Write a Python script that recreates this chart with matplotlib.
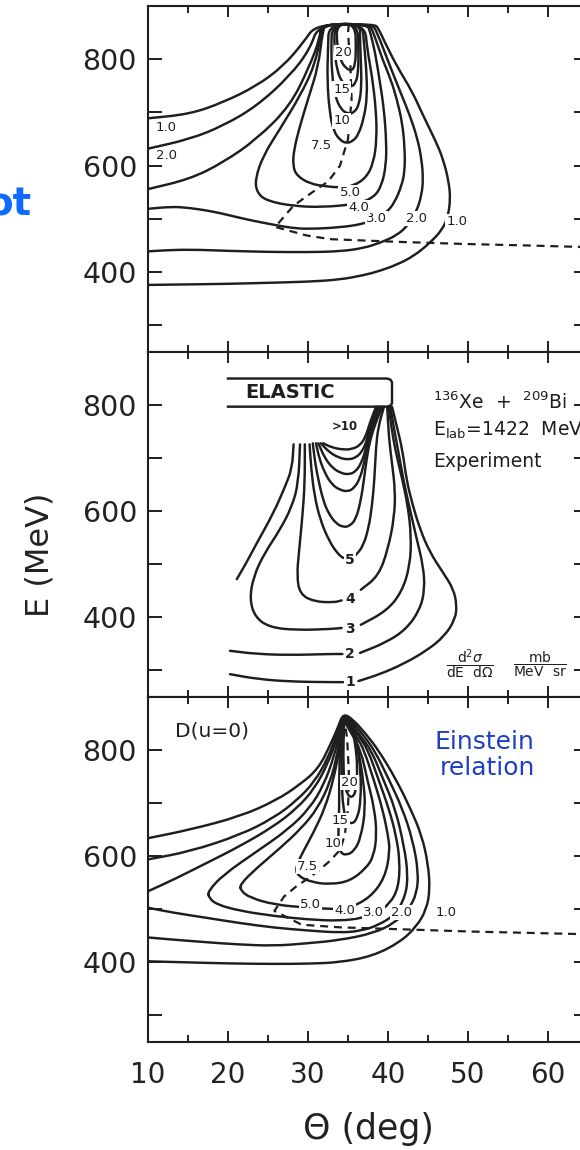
import matplotlib
matplotlib.use("Agg")
import matplotlib.pyplot as plt
from matplotlib.path import Path
from matplotlib.patches import PathPatch
from matplotlib.ticker import MultipleLocator, FuncFormatter

# ---------------------------------------------------------------------
# contour lines, as (theta [deg], E [MeV]) points
# ---------------------------------------------------------------------

# top panel (calculation with full D)
top_lvl_1 = [(10, 689), (15.25, 697), (19.4, 719), (23.6, 750), (26.9, 787), (29.4, 831),
             (31.0, 866), (38.3, 866), (38.8, 858), (39.5, 835), (41.1, 787), (43.0, 740),
             (44.4, 694), (46.0, 645), (46.9, 612), (47.6, 570), (47.8, 537), (47.5, 505),
             (46.8, 480), (45.25, 455), (43.2, 430), (41.1, 414), (38.9, 402), (36.9, 394),
             (34.0, 386), (30.0, 382), (25.0, 380), (20.0, 378), (15.0, 377), (10.0, 376)]
top_lvl_2 = [(10, 632), (15.25, 650), (19.4, 675), (23.6, 712), (27.75, 769), (30.25, 819),
             (31.3, 866), (38.0, 866), (38.6, 852), (40.25, 787), (41.5, 740), (42.75, 694),
             (43.7, 650), (44.2, 612), (44.4, 575), (44.2, 545), (43.6, 515), (42.5, 488),
             (41.1, 469), (39.0, 455), (36.9, 445), (34.0, 439), (30.0, 437.5), (25.0, 438),
             (20.0, 440), (15.25, 442.5), (12.0, 441), (10.0, 439)]
top_lvl_3 = [(10, 556), (15.25, 575), (19.4, 606), (23.6, 650), (27.75, 712), (30.2, 787),
             (31.5, 840), (31.6, 866), (37.7, 866), (38.3, 845), (39.3, 800), (40.4, 760),
             (41.1, 725), (41.8, 680), (42.1, 631), (42.1, 590), (41.7, 562), (40.8, 530),
             (39.8, 512), (38.5, 500), (36.9, 490.5), (34.0, 484), (30.0, 481), (28.0, 483),
             (25.7, 489), (23.0, 497), (21.5, 502), (19.0, 511), (17.3, 516), (15.0, 521),
             (13.0, 523), (10.0, 519)]
top_lvl_4 = [(31.9, 866), (31.7, 850), (30.8, 787), (29.0, 731), (26.5, 669), (24.4, 619),
             (23.4, 575), (23.6, 550), (24.8, 534), (28.2, 524), (31.9, 522), (36.1, 528),
             (38.2, 540), (39.2, 562), (39.75, 600), (39.8, 644), (39.5, 706), (39.0, 756),
             (38.4, 812), (37.8, 850), (37.4, 866), (31.9, 866)]
top_lvl_5 = [(32.2, 866), (31.8, 850), (31.3, 787), (30.0, 725), (29.0, 675), (28.25, 631),
             (28.1, 600), (28.6, 581), (30.25, 566), (32.3, 561), (34.0, 559), (35.7, 562),
             (37.3, 578), (38.2, 606), (38.6, 650), (38.5, 706), (38.0, 769), (37.4, 819),
             (37.1, 866), (32.2, 866)]
top_lvl_7_5 = [(32.6, 866), (32.5, 820), (32.4, 760), (32.7, 700), (33.2, 665), (34.0, 648),
               (34.8, 642), (35.6, 646), (36.3, 658), (37.0, 690), (37.4, 730), (37.3, 780),
               (37.0, 830), (36.8, 866), (32.6, 866)]
top_lvl_10 = [(33.0, 866), (32.9, 820), (33.0, 770), (33.4, 730), (34.1, 706), (35.0, 697),
              (35.8, 700), (36.4, 715), (36.7, 750), (36.6, 800), (36.5, 840), (36.5, 866),
              (33.0, 866)]
top_lvl_15 = [(33.3, 866), (33.3, 820), (33.6, 780), (34.3, 755), (35.3, 747), (36.0, 755),
              (36.3, 780), (36.3, 820), (36.2, 866), (33.3, 866)]
top_lvl_20 = [(33.6, 866), (33.6, 830), (34.0, 800), (34.7, 783), (35.5, 778), (35.9, 790),
              (36.0, 820), (35.9, 866), (33.6, 866)]
top_ridge = [(35.1, 866), (35.0, 850), (35.3, 790), (35.45, 725), (35.0, 650), (34.0, 600),
             (32.5, 570), (31.1, 556), (28.2, 525), (25.9, 485), (29.8, 469), (32.75, 462),
             (41.1, 457), (49.4, 453), (57.75, 450), (65.0, 447)]
top_curves = [top_lvl_1, top_lvl_2, top_lvl_3, top_lvl_4, top_lvl_5,
              top_lvl_7_5, top_lvl_10, top_lvl_15, top_lvl_20]
top_texts = ["1.0", "2.0", "1.0", "2.0", "3.0", "4.0", "5.0", "7.5", "10", "15", "20"]

# middle panel (experiment)
mid_lvl_1_left = [(20.25, 293), (23.6, 284), (27.75, 279), (32.75, 278), (34.4, 278)]
mid_lvl_1_right = [(36.3, 280), (39.0, 293), (41.9, 312), (44.8, 337), (47.1, 365), (48.4, 397),
                   (48.6, 422), (48.2, 453), (46.9, 484), (45.25, 522), (44.0, 566), (43.0, 616),
                   (42.3, 660), (41.8, 716), (41.1, 760), (40.5, 797)]
mid_lvl_2_left = [(20.25, 337), (23.6, 331), (27.75, 329), (32.75, 331), (34.3, 331)]
mid_lvl_2_right = [(36.5, 333), (39.8, 353), (42.3, 378), (44.0, 415), (44.6, 453), (44.4, 497),
                   (43.6, 547), (42.75, 603), (42.0, 653), (41.3, 712), (40.7, 760), (40.3, 797)]
mid_lvl_2_upper = [(28.2, 726), (28.0, 680), (27.1, 645), (25.7, 597), (23.6, 540), (22.3, 503),
                   (21.1, 472)]
mid_lvl_3_left = [(29.0, 726), (28.8, 653), (28.0, 609), (26.5, 565), (24.6, 522), (23.2, 478),
                  (22.7, 434), (23.4, 400), (25.25, 381), (28.6, 376), (32.75, 378), (34.2, 380)]
mid_lvl_3_right = [(36.6, 386), (39.8, 412), (41.7, 447), (42.75, 497), (42.9, 553), (42.5, 609),
                   (41.7, 666), (40.9, 716), (40.4, 760), (40.1, 797)]
mid_lvl_4_left = [(29.6, 726), (29.6, 653), (29.3, 590), (28.9, 528), (28.6, 478), (29.0, 444),
                  (30.7, 430), (33.2, 428), (34.2, 432)]
mid_lvl_4_right = [(36.6, 452), (38.8, 478), (40.0, 528), (40.8, 590), (40.9, 640), (40.5, 690),
                   (40.1, 740), (39.9, 797)]
mid_lvl_5_left = [(30.2, 726), (30.4, 680), (30.8, 630), (31.5, 585), (32.6, 545), (33.7, 520),
                  (34.4, 512)]
mid_lvl_5_right = [(35.9, 516), (36.9, 534), (37.6, 570), (38.0, 610), (38.3, 659), (38.5, 722),
                   (38.8, 760), (39.5, 797)]
mid_inner_a = [(30.6, 728), (30.9, 690), (31.3, 659), (31.9, 620), (32.6, 595), (33.5, 577),
               (34.4, 570), (35.2, 572), (36.0, 585), (36.6, 620), (37.0, 660), (37.3, 695),
               (37.7, 730), (38.4, 765), (39.3, 797)]
mid_inner_b = [(31.0, 728), (31.4, 700), (32.1, 672), (33.0, 650), (34.0, 640), (35.0, 637),
               (35.8, 644), (36.5, 662), (37.0, 690), (37.5, 725), (38.2, 765), (39.1, 797)]
mid_inner_c = [(31.3, 728), (32.1, 700), (33.1, 681), (34.1, 672), (35.1, 669), (36.0, 675),
               (36.7, 692), (37.3, 720), (37.9, 762), (38.9, 797)]
mid_inner_d = [(31.6, 728), (32.6, 712), (33.8, 701), (35.0, 697), (36.0, 701), (36.8, 713),
               (37.4, 735), (37.8, 765), (38.7, 797)]
mid_inner_e = [(31.9, 728), (33.0, 720), (34.4, 716), (35.5, 717), (36.5, 724), (37.2, 740),
               (37.7, 765), (38.5, 797)]
mid_elastic = [(20, 850), (39.9, 850), (40.3, 848), (40.5, 843), (40.5, 803), (40.3, 799),
               (39.9, 797), (20, 797)]
mid_curves = [mid_lvl_1_left, mid_lvl_1_right, mid_lvl_2_left, mid_lvl_2_right, mid_lvl_2_upper,
              mid_lvl_3_left, mid_lvl_3_right, mid_lvl_4_left, mid_lvl_4_right,
              mid_lvl_5_left, mid_lvl_5_right, mid_inner_a, mid_inner_b, mid_inner_c,
              mid_inner_d, mid_inner_e]
mid_texts = ["1", "2", "3", "4", "5", ">10"]

# bottom panel (calculation with D(u=0))
bot_lvl_1 = [(10, 634), (15.25, 650), (21.5, 675), (26.0, 705), (29.0, 735), (31.3, 765),
             (32.8, 810), (33.8, 845), (34.4, 869), (35.6, 858), (37.2, 831), (38.8, 800),
             (41.0, 745), (42.8, 690), (44.2, 640), (45.0, 587), (45.25, 537), (44.8, 500),
             (43.6, 468), (41.5, 438), (38.1, 412), (34.0, 400), (30.0, 397.5), (25.7, 397),
             (20.0, 398), (15.0, 400), (10.0, 402)]
bot_lvl_2 = [(10, 594), (15.25, 609), (21.5, 640), (25.7, 672), (28.6, 705), (30.8, 740),
             (32.5, 785), (33.6, 830), (34.4, 866), (35.5, 855), (36.9, 828), (38.3, 800),
             (40.1, 745), (41.8, 690), (43.1, 630), (43.8, 570), (43.6, 530), (42.6, 500),
             (40.8, 474), (38.2, 455), (34.0, 442), (30.0, 436), (25.7, 431), (21.0, 434),
             (17.3, 438), (13.0, 443), (10.0, 447)]
bot_lvl_3 = [(10, 503), (13.0, 494), (17.3, 484), (21.5, 474), (25.7, 465.5), (30.0, 460),
             (34.0, 456), (36.5, 459), (38.8, 470), (40.9, 490), (42.2, 525), (42.5, 565),
             (42.0, 620), (40.9, 690), (39.4, 745), (37.9, 800), (36.6, 825), (35.4, 852),
             (34.4, 864), (33.7, 825), (32.5, 775), (30.8, 727), (28.6, 690), (25.7, 656),
             (21.5, 619), (17.3, 587), (13.2, 556), (10.0, 534)]
bot_lvl_4 = [(17.5, 534), (19.4, 565), (23.6, 609), (27.5, 650), (30.2, 690), (32.0, 735),
             (33.3, 790), (34.1, 840), (34.4, 862), (35.3, 850), (36.4, 825), (37.5, 800),
             (38.8, 745), (40.1, 690), (41.0, 640), (41.5, 590), (41.3, 540), (40.2, 510),
             (38.5, 492), (36.9, 484), (34.0, 478), (29.8, 481), (25.7, 487.5), (21.5, 497),
             (18.6, 509), (17.6, 522), (17.5, 534)]
bot_lvl_5 = [(21.5, 547), (23.6, 578), (26.5, 615), (29.2, 653), (31.2, 690), (32.8, 740),
             (33.7, 795), (34.2, 840), (34.4, 860), (35.4, 840), (36.2, 822), (37.0, 800),
             (38.2, 745), (39.3, 690), (40.0, 640), (40.25, 609), (39.6, 559), (37.75, 522),
             (35.25, 503), (34.0, 500), (29.8, 503), (25.7, 509), (22.75, 522), (21.6, 535),
             (21.5, 547)]
bot_lvl_7_5 = [(28.4, 578), (29.4, 609), (30.7, 645), (32.1, 690), (33.2, 745), (33.9, 800),
               (34.3, 845), (34.4, 858), (35.3, 835), (36.6, 800), (37.4, 745), (38.3, 690),
               (38.6, 640), (38.2, 600), (37.3, 578), (35.25, 553), (32.75, 547), (30.5, 551),
               (28.8, 562), (28.4, 578)]
bot_lvl_10 = [(34.6, 866), (34.3, 855), (34.0, 810), (33.9, 750), (33.9, 690), (33.8, 645),
              (33.8, 620), (34.1, 606), (34.8, 602), (35.8, 610), (36.6, 635), (37.2, 690),
              (36.9, 745), (36.3, 800), (35.6, 845), (34.6, 866)]
bot_lvl_15 = [(34.6, 866), (34.3, 840), (34.2, 800), (34.2, 740), (34.4, 690), (34.8, 668),
              (35.5, 660), (36.2, 672), (36.6, 705), (36.6, 760), (36.1, 815), (35.3, 853),
              (34.6, 866)]
bot_lvl_20 = [(34.6, 866), (34.5, 845), (34.4, 790), (34.5, 740), (34.9, 716), (35.5, 710),
              (36.0, 722), (36.2, 765), (35.9, 815), (35.3, 852), (34.6, 866)]
bot_ridge = [(34.5, 866), (34.9, 820), (35.1, 760), (35.1, 738), (35.0, 690), (34.6, 640),
             (34.0, 612), (32.8, 592), (31.5, 575), (30.0, 558), (28.6, 544), (27.0, 524),
             (25.8, 497), (29.2, 471), (34.0, 466), (42.4, 462), (50.6, 458), (65.0, 453)]
bot_curves = [bot_lvl_1, bot_lvl_2, bot_lvl_3, bot_lvl_4, bot_lvl_5,
              bot_lvl_7_5, bot_lvl_10, bot_lvl_15, bot_lvl_20]
bot_texts = ["1.0", "2.0", "3.0", "4.0", "5.0", "7.5", "10", "15", "20"]

# where the level numbers sit (theta, E)
top_text_pos = [(12.3, 672), (12.3, 619), (48.6, 495), (43.6, 500), (38.6, 501), (36.3, 522),
                (35.25, 550), (31.7, 637), (34.2, 684), (34.2, 744), (34.4, 812)]
mid_text_pos = [(35.25, 279), (35.25, 331), (35.25, 379), (35.25, 434), (35.2, 509), (34.6, 759)]
bot_text_pos = [(47.3, 494), (41.7, 494), (38.2, 494), (34.6, 497), (30.3, 509), (29.9, 581),
                (33.1, 624), (34.0, 667), (35.2, 739)]

INK = "#1e1e1e"
plt.rcParams["font.family"] = ["DejaVu Sans"]
plt.rcParams["mathtext.fontset"] = "dejavusans"


def smooth_path(pts):
    # quadratic pieces through the midpoints, so the pen line looks drawn, not angular
    closed = pts[0] == pts[-1]
    p = list(pts[:-1]) if closed else list(pts)
    mid = lambda a, b: ((a[0] + b[0]) / 2, (a[1] + b[1]) / 2)
    if closed:
        n = len(p)
        verts, codes = [mid(p[-1], p[0])], [Path.MOVETO]
        for i in range(n):
            verts += [p[i], mid(p[i], p[(i + 1) % n])]
            codes += [Path.CURVE3, Path.CURVE3]
    else:
        verts, codes = [p[0], mid(p[0], p[1])], [Path.MOVETO, Path.LINETO]
        for i in range(1, len(p) - 1):
            verts += [p[i], mid(p[i], p[i + 1])]
            codes += [Path.CURVE3, Path.CURVE3]
        verts.append(p[-1])
        codes.append(Path.LINETO)
    return Path(verts, codes)


def trace(ax, pts):
    ax.add_patch(PathPatch(smooth_path(pts), fill=False, edgecolor=INK, lw=1.75,
                           joinstyle="round", capstyle="round", zorder=2))


def ridge(ax, pts):
    ax.plot([p[0] for p in pts], [p[1] for p in pts], color=INK, lw=1.6,
            ls=(0, (3.6, 2.6)), zorder=2)


def level_text(ax, txt, xy, size=9.5, weight="normal"):
    ax.text(xy[0], xy[1], txt, ha="center", va="center", fontsize=size, color=INK,
            fontweight=weight, zorder=3,
            bbox=dict(boxstyle="square,pad=0.08", fc="white", ec="none"))


def frame(ax, xlabels):
    ax.set_xlim(10, 65)
    ax.set_ylim(250, 900)
    ax.xaxis.set_major_locator(MultipleLocator(10))
    ax.xaxis.set_minor_locator(MultipleLocator(5))
    ax.yaxis.set_major_locator(MultipleLocator(100))
    ax.yaxis.set_major_formatter(
        FuncFormatter(lambda v, p: f"{v:.0f}" if int(v) in (400, 600, 800) else ""))
    ax.tick_params(which="both", direction="in", top=True, right=True, width=1.4,
                   color=INK, labelcolor="#222222")
    ax.tick_params(axis="x", which="major", length=8, labelsize=20, pad=14,
                   labelbottom=xlabels)
    ax.tick_params(axis="x", which="minor", length=5)
    ax.tick_params(axis="y", which="major", length=10, labelsize=20.5, pad=8)
    for s in ax.spines.values():
        s.set_linewidth(1.5)
        s.set_color(INK)


fig = plt.figure(figsize=(5.8, 11.5), dpi=100)
L, W, H = 148 / 580, 440 / 580, 345 / 1150
ax1 = fig.add_axes([L, 1 - 352 / 1150, W, 346 / 1150])
ax2 = fig.add_axes([L, 1 - 697 / 1150, W, H])
ax3 = fig.add_axes([L, 1 - 1042 / 1150, W, H])

# top
frame(ax1, False)
for c in top_curves:
    trace(ax1, c)
ridge(ax1, top_ridge)
for t, xy in zip(top_texts, top_text_pos):
    level_text(ax1, t, xy)

# middle
frame(ax2, False)
for c in mid_curves:
    trace(ax2, c)
ax2.plot([p[0] for p in mid_elastic], [p[1] for p in mid_elastic], color=INK, lw=1.75,
         solid_joinstyle="round")
for t, xy in zip(mid_texts, mid_text_pos):
    level_text(ax2, t, xy, size=10 if t != ">10" else 8.5, weight="bold")
ax2.text(27.75, 823, "ELASTIC", ha="center", va="center", fontsize=14, fontweight="bold",
         color=INK)
ax2.text(45.6, 806, r"$^{136}$Xe  +  $^{209}$Bi", ha="left", va="center", fontsize=13.5,
         color=INK)
ax2.text(45.6, 752, r"E$_{\mathrm{lab}}$=1422  MeV", ha="left", va="center", fontsize=13.5,
         color=INK)
ax2.text(45.6, 694, "Experiment", ha="left", va="center", fontsize=13.5, color=INK)
ax2.text(50.3, 312, r"$\dfrac{\mathrm{d}^2\sigma}{\mathrm{dE\ \ d}\Omega}$", ha="center",
         va="center", fontsize=10, color=INK)
ax2.text(59.0, 312, r"$\dfrac{\mathrm{mb}}{\mathrm{MeV\ \ sr}}$", ha="center",
         va="center", fontsize=10, color=INK)

# bottom
frame(ax3, True)
for c in bot_curves:
    trace(ax3, c)
ridge(ax3, bot_ridge)
for t, xy in zip(bot_texts, bot_text_pos):
    level_text(ax3, t, xy)
ax3.text(13.4, 836, "D(u=0)", ha="left", va="center", fontsize=14.5, color=INK)
ax3.text(45.8, 816, "Einstein", ha="left", va="center", fontsize=18, color="#1c3fc4")
ax3.text(46.5, 766, "relation", ha="left", va="center", fontsize=18, color="#1c3fc4")

fig.text(40 / 580, 1 - 555 / 1150, "E (MeV)", rotation=90, ha="center", va="center",
         fontsize=23, color="#222222")
fig.text(368 / 580, 1 - 1129 / 1150, "\u0398 (deg)", ha="center", va="center",
         fontsize=25, color="#222222")
fig.text(32 / 580, 1 - 205 / 1150, "ot", ha="right", va="center", fontsize=28,
         fontweight="bold", color="#0f6bff")

fig.savefig("out.png", dpi=100, facecolor="white")
